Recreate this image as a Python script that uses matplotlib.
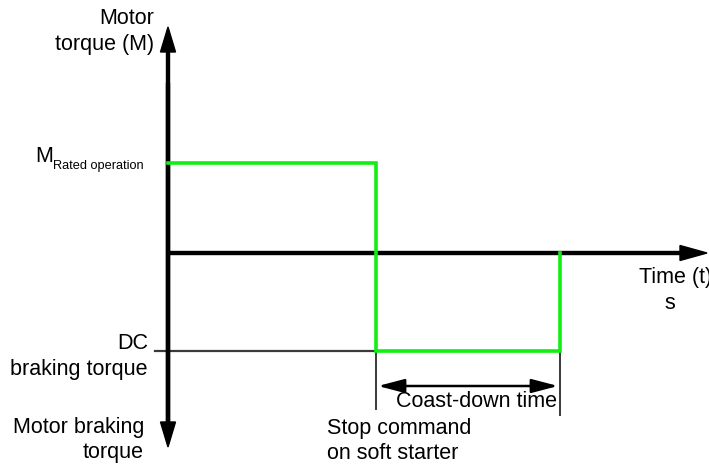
import matplotlib
matplotlib.use("Agg")
import matplotlib.pyplot as plt

plt.rcParams['font.family'] = ['Liberation Sans', 'DejaVu Sans']

# diagram data (origin = crossing of the two axes, 1 unit ~ 1 px)
t_stop = 208          # stop command on soft starter
t_end = 392           # end of coast-down (DC braking released)
m_rated = 90          # rated operation torque
m_dc = -98            # DC braking torque

green_t = [0, t_stop, t_stop, t_end, t_end]
green_m = [m_rated, m_rated, m_dc, m_dc, 0]

fig = plt.figure(figsize=(7.09, 4.65), dpi=100)
ax = fig.add_axes([0, 0, 1, 1])
ax.set_xlim(-168, 541)
ax.set_ylim(-212, 253)
ax.axis('off')

# axes arrows
ax.arrow(0, -170, 0, 396, width=3, head_width=15, head_length=25,
         length_includes_head=True, color='black', zorder=3)
ax.arrow(0, 170, 0, -364, width=3, head_width=15, head_length=25,
         length_includes_head=True, color='black', zorder=3)
ax.arrow(0, 0, 539, 0, width=3, head_width=15, head_length=27,
         length_includes_head=True, color='black', zorder=3)

# DC braking reference line
ax.plot([-13, t_stop], [m_dc, m_dc], color='#3a3a3a', lw=1.6, zorder=1)

# torque curve
ax.plot(green_t, green_m, color='#11ee11', lw=2.6, zorder=4,
        solid_joinstyle='miter')

# coast-down markers
ax.plot([t_stop, t_stop], [m_dc, -156], color='#3a3a3a', lw=1.4, zorder=2)
ax.plot([t_end, t_end], [m_dc, -162], color='#3a3a3a', lw=1.4, zorder=2)
ax.annotate('', xy=(t_stop + 2, -133), xytext=(t_end - 2, -133),
            arrowprops=dict(arrowstyle='<|-|>,head_length=1.6,head_width=0.42',
                            color='black', lw=1.8, shrinkA=0, shrinkB=0))

fs = 15.5
ax.text(-14, 234, 'Motor', fontsize=fs, ha='right', va='center')
ax.text(-14, 208, 'torque (M)', fontsize=fs, ha='right', va='center')
ax.text(-133, 96, 'M', fontsize=fs, ha='left', va='center')
ax.text(-115, 84, 'Rated operation', fontsize=9.2, ha='left', va='baseline')
ax.text(-20, -90, 'DC', fontsize=fs, ha='right', va='center')
ax.text(-20, -116, 'braking torque', fontsize=fs, ha='right', va='center')
ax.text(-24, -174, 'Motor braking', fontsize=fs, ha='right', va='center')
ax.text(-24, -199, 'torque', fontsize=fs, ha='right', va='center')
ax.text(309, -148, 'Coast-down time', fontsize=fs, ha='center', va='center')
ax.text(159, -175, 'Stop command', fontsize=fs, ha='left', va='center')
ax.text(159, -200, 'on soft starter', fontsize=fs, ha='left', va='center')
ax.text(471, -24, 'Time (t)', fontsize=fs, ha='left', va='center')
ax.text(502, -50, 's', fontsize=fs, ha='center', va='center')

fig.savefig('out.png', dpi=100)
